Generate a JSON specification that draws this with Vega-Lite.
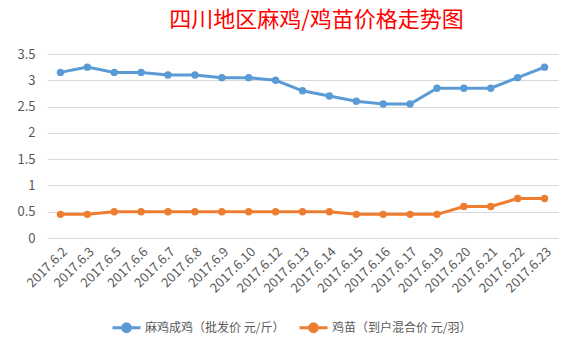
{
  "$schema": "https://vega.github.io/schema/vega-lite/v6.json",
  "width": 511,
  "height": 184,
  "autosize": {"type": "none"},
  "padding": {"left": 47, "top": 54, "right": 18, "bottom": 107},
  "background": "white",
  "config": {
    "font": "Noto Sans CJK SC",
    "view": {"stroke": null}
  },
  "title": {
    "text": "四川地区麻鸡/鸡苗价格走势图",
    "color": "#FF0000",
    "fontSize": 22,
    "fontWeight": "normal",
    "font": "Noto Sans CJK SC",
    "anchor": "middle",
    "frame": "group",
    "dx": 14,
    "offset": 16
  },
  "data": {
    "values": [
      {"date": "2017.6.2", "series": "麻鸡成鸡（批发价 元/斤）", "price": 3.15},
      {"date": "2017.6.3", "series": "麻鸡成鸡（批发价 元/斤）", "price": 3.25},
      {"date": "2017.6.5", "series": "麻鸡成鸡（批发价 元/斤）", "price": 3.15},
      {"date": "2017.6.6", "series": "麻鸡成鸡（批发价 元/斤）", "price": 3.15},
      {"date": "2017.6.7", "series": "麻鸡成鸡（批发价 元/斤）", "price": 3.1},
      {"date": "2017.6.8", "series": "麻鸡成鸡（批发价 元/斤）", "price": 3.1},
      {"date": "2017.6.9", "series": "麻鸡成鸡（批发价 元/斤）", "price": 3.05},
      {"date": "2017.6.10", "series": "麻鸡成鸡（批发价 元/斤）", "price": 3.05},
      {"date": "2017.6.12", "series": "麻鸡成鸡（批发价 元/斤）", "price": 3.0},
      {"date": "2017.6.13", "series": "麻鸡成鸡（批发价 元/斤）", "price": 2.8},
      {"date": "2017.6.14", "series": "麻鸡成鸡（批发价 元/斤）", "price": 2.7},
      {"date": "2017.6.15", "series": "麻鸡成鸡（批发价 元/斤）", "price": 2.6},
      {"date": "2017.6.16", "series": "麻鸡成鸡（批发价 元/斤）", "price": 2.55},
      {"date": "2017.6.17", "series": "麻鸡成鸡（批发价 元/斤）", "price": 2.55},
      {"date": "2017.6.19", "series": "麻鸡成鸡（批发价 元/斤）", "price": 2.85},
      {"date": "2017.6.20", "series": "麻鸡成鸡（批发价 元/斤）", "price": 2.85},
      {"date": "2017.6.21", "series": "麻鸡成鸡（批发价 元/斤）", "price": 2.85},
      {"date": "2017.6.22", "series": "麻鸡成鸡（批发价 元/斤）", "price": 3.05},
      {"date": "2017.6.23", "series": "麻鸡成鸡（批发价 元/斤）", "price": 3.25},
      {"date": "2017.6.2", "series": "鸡苗（到户混合价 元/羽）", "price": 0.45},
      {"date": "2017.6.3", "series": "鸡苗（到户混合价 元/羽）", "price": 0.45},
      {"date": "2017.6.5", "series": "鸡苗（到户混合价 元/羽）", "price": 0.5},
      {"date": "2017.6.6", "series": "鸡苗（到户混合价 元/羽）", "price": 0.5},
      {"date": "2017.6.7", "series": "鸡苗（到户混合价 元/羽）", "price": 0.5},
      {"date": "2017.6.8", "series": "鸡苗（到户混合价 元/羽）", "price": 0.5},
      {"date": "2017.6.9", "series": "鸡苗（到户混合价 元/羽）", "price": 0.5},
      {"date": "2017.6.10", "series": "鸡苗（到户混合价 元/羽）", "price": 0.5},
      {"date": "2017.6.12", "series": "鸡苗（到户混合价 元/羽）", "price": 0.5},
      {"date": "2017.6.13", "series": "鸡苗（到户混合价 元/羽）", "price": 0.5},
      {"date": "2017.6.14", "series": "鸡苗（到户混合价 元/羽）", "price": 0.5},
      {"date": "2017.6.15", "series": "鸡苗（到户混合价 元/羽）", "price": 0.45},
      {"date": "2017.6.16", "series": "鸡苗（到户混合价 元/羽）", "price": 0.45},
      {"date": "2017.6.17", "series": "鸡苗（到户混合价 元/羽）", "price": 0.45},
      {"date": "2017.6.19", "series": "鸡苗（到户混合价 元/羽）", "price": 0.45},
      {"date": "2017.6.20", "series": "鸡苗（到户混合价 元/羽）", "price": 0.6},
      {"date": "2017.6.21", "series": "鸡苗（到户混合价 元/羽）", "price": 0.6},
      {"date": "2017.6.22", "series": "鸡苗（到户混合价 元/羽）", "price": 0.75},
      {"date": "2017.6.23", "series": "鸡苗（到户混合价 元/羽）", "price": 0.75}
    ]
  },
  "encoding": {
    "x": {
      "field": "date",
      "type": "ordinal",
      "sort": null,
      "scale": {"type": "point", "padding": 0.5},
      "axis": {
        "title": null,
        "labelAngle": -45,
        "labelFontSize": 13,
        "labelColor": "#595959",
        "labelPadding": 7,
        "ticks": false,
        "domain": true,
        "domainColor": "#D9D9D9",
        "grid": false
      }
    },
    "y": {
      "field": "price",
      "type": "quantitative",
      "scale": {"domain": [0, 3.5], "nice": false},
      "axis": {
        "title": null,
        "values": [0, 0.5, 1, 1.5, 2, 2.5, 3, 3.5],
        "labelExpr": "datum.value",
        "labelFontSize": 13,
        "labelColor": "#595959",
        "labelPadding": 12,
        "ticks": false,
        "domain": false,
        "grid": true,
        "gridColor": "#D9D9D9",
        "gridWidth": 1
      }
    },
    "color": {
      "field": "series",
      "type": "nominal",
      "sort": null,
      "scale": {
        "domain": ["麻鸡成鸡（批发价 元/斤）", "鸡苗（到户混合价 元/羽）"],
        "range": ["#5B9BD5", "#ED7D31"]
      },
      "legend": {
        "title": null,
        "orient": "none",
        "direction": "horizontal",
        "legendX": 64,
        "legendY": 258,
        "labelFontSize": 12,
        "labelColor": "#595959",
        "symbolType": "M-1,0H1M-0.28,0A0.28,0.28,0,1,1,0.28,0A0.28,0.28,0,1,1,-0.28,0Z",
        "symbolSize": 784,
        "symbolStrokeWidth": 3,
        "columnPadding": 8,
        "labelOffset": 3
      }
    }
  },
  "layer": [
    {"mark": {"type": "line", "strokeWidth": 3}},
    {"mark": {"type": "point", "filled": true, "size": 55, "opacity": 1}}
  ]
}
